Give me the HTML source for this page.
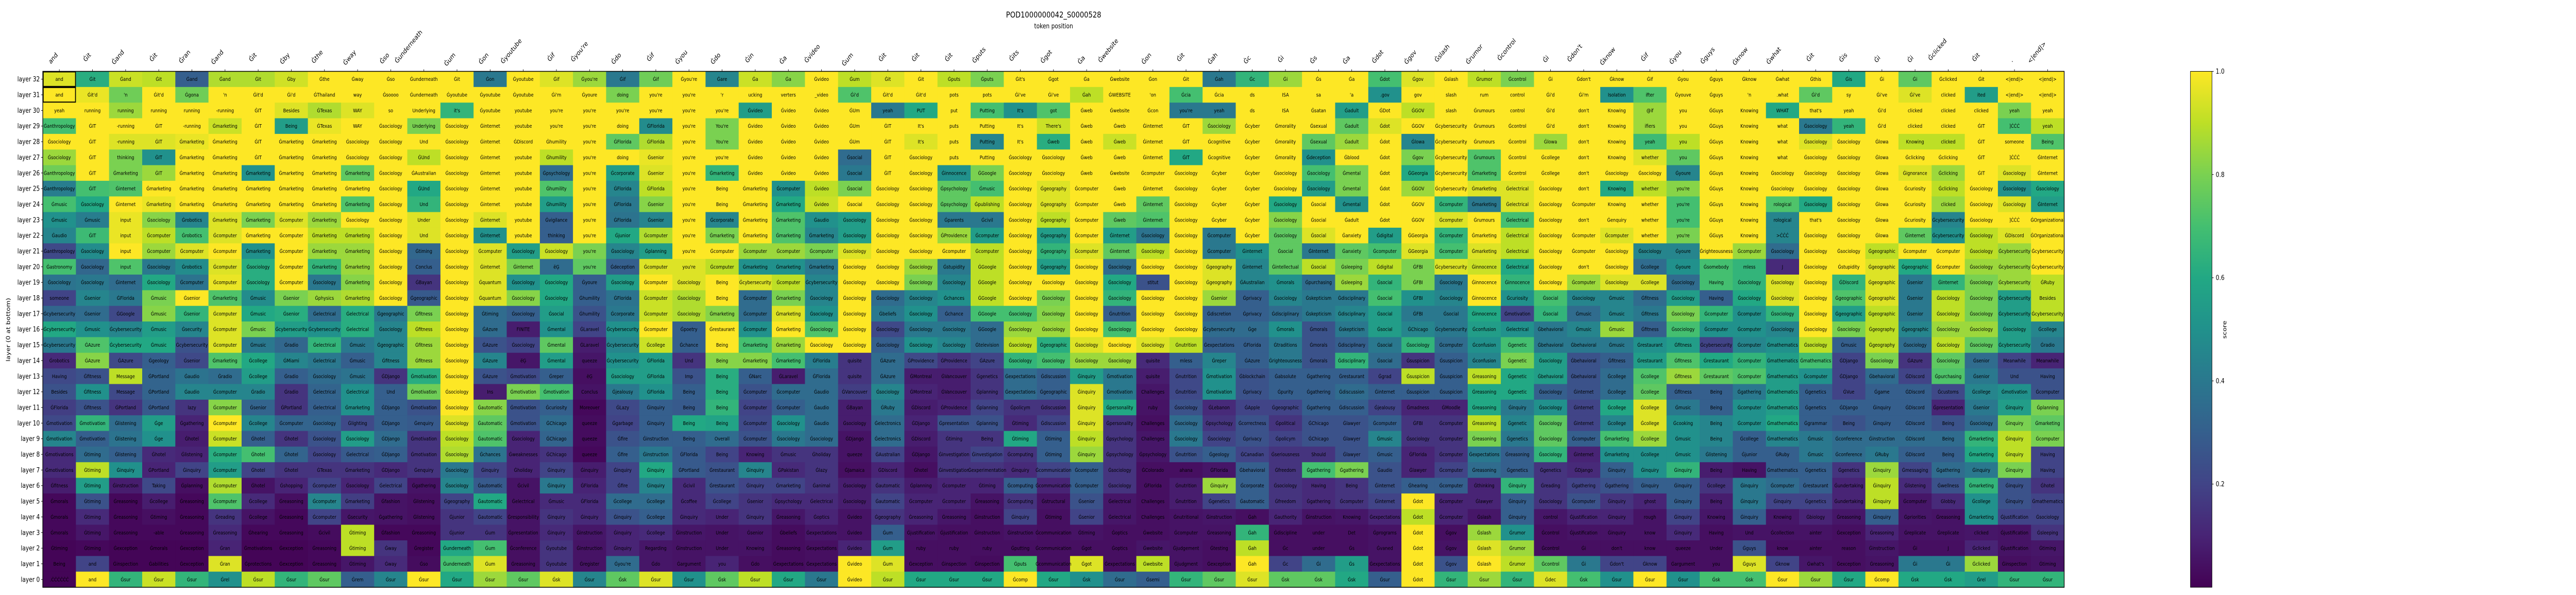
<!DOCTYPE html>
<html><head><meta charset="utf-8"><title>POD1000000042_S0000528</title>
<style>html,body{margin:0;padding:0;background:#fff;width:100%;height:100%;overflow:hidden}svg{display:block;width:100vw;height:100vh}text{font-family:"DejaVu Sans","Liberation Sans",sans-serif}</style>
</head><body>
<svg id="chart" xmlns="http://www.w3.org/2000/svg" viewBox="0 0 6100 1155" preserveAspectRatio="none">
<defs><linearGradient id="vir" x1="0" y1="1" x2="0" y2="0">
<stop offset="0" stop-color="#440154"/><stop offset="0.1" stop-color="#482475"/><stop offset="0.2" stop-color="#414487"/><stop offset="0.3" stop-color="#355f8d"/><stop offset="0.4" stop-color="#2a788e"/><stop offset="0.5" stop-color="#21918c"/><stop offset="0.6" stop-color="#22a884"/><stop offset="0.7" stop-color="#44bf70"/><stop offset="0.8" stop-color="#7ad151"/><stop offset="0.9" stop-color="#bddf26"/><stop offset="1" stop-color="#fde725"/></linearGradient></defs>
<text x="2495" y="34" font-size="16" text-anchor="middle">POD1000000042_S0000528</text>
<text x="2495" y="55" font-size="13" text-anchor="middle">token position</text>
<text transform="translate(24,640) rotate(-90)" font-size="13" text-anchor="middle">layer (0 at bottom)</text>
<g id="cells"></g>
<g id="xt"></g>
<g id="yt"></g>
<rect x="101.3" y="138.5" width="4786.7" height="1001.5" fill="none" stroke="#000" stroke-width="1.5"/>
<g id="cb">
<rect x="5187" y="138.5" width="51" height="1001.5" fill="url(#vir)" stroke="#000" stroke-width="1"/>
</g>
<text transform="translate(5272,640) rotate(-90)" font-size="13" text-anchor="middle">score</text>
</svg>
<script>
const xLabels=["and","Ġit","Ġand","Ġit","Ġran","Ġand","Ġit","Ġby","Ġthe","Ġway","Ġso","Ġunderneath","Ġum","Ġon","Ġyoutube","Ġif","Ġyou're","Ġdo","Ġif","Ġyou","Ġdo","Ġin","Ġa","Ġvideo","Ġum","Ġit","Ġit","Ġit","Ġputs","Ġits","Ġgot","Ġa","Ġwebsite","Ġon","Ġit","Ġah","Ġc","Ġi","Ġs","Ġa","Ġdot","Ġgov","Ġslash","Ġrumor","Ġcontrol","Ġi","Ġdon't","Ġknow","Ġif","Ġyou","Ġguys","Ġknow","Ġwhat","Ġit","Ġis","Ġi","Ġi","Ġclicked","Ġit",".","<|end|>"];
const layers=[32,31,30,29,28,27,26,25,24,23,22,21,20,19,18,17,16,15,14,13,12,11,10,9,8,7,6,5,4,3,2,1,0];
const cbTicks=[0.2,0.4,0.6,0.8,1.0];
const tokenCols=[
["and","and","yeah","Ġanthropology","Ġsociology","Ġsociology","Ġanthropology","Ġanthropology","Ġmusic","Ġmusic","Ġaudio","Ġanthropology","Ġastronomy","Ġsociology","someone","Ġcybersecurity","Ġcybersecurity","Ġcybersecurity","Ġrobotics","Having","Besides","ĠFlorida","Ġmotivation","Ġmotivation","Ġmotivations","Ġmotivations","Ġfitness","Ġmorals","Ġmorals","Ġmorals","Ġtiming","Being",".ĊĊĊĊĊĊ"],
["Ġit","Ġit'd","running","ĠIT","ĠIT","ĠIT","ĠIT","ĠIT","Ġsociology","Ġmusic","ĠIT","Ġsociology","Ġsociology","Ġsociology","Ġsenior","Ġsenior","Ġmusic","ĠAzure","ĠAzure","Ġfitness","Ġfitness","Ġfitness","Ġmotivation","Ġmotivation","Ġtiming","Ġtiming","Ġtiming","Ġtiming","Ġtiming","Ġtiming","Ġtiming","and","and"],
["Ġand","'n","running","-running","-running","thinking","Ġmarketing","Ġinternet","Ġinternet","input","input","input","input","Ġinternet","ĠFlorida","ĠGoogle","Ġcybersecurity","Ġcybersecurity","ĠAzure","Message","Message","ĠPortland","Ġlistening","Ġlistening","Ġlistening","Ġinquiry","Ġinstruction","Ġreasoning","Ġreasoning","Ġreasoning","Ġexception","Ġinspection","Ġsur"],
["Ġit","Ġit'd","running","ĠIT","ĠIT","ĠIT","ĠIT","Ġmarketing","Ġmarketing","Ġsociology","Ġcomputer","Ġcomputer","Ġsociology","Ġsociology","Ġmusic","Ġmusic","Ġmusic","Ġmusic","Ġgeology","ĠPortland","ĠPortland","ĠPortland","Ġge","Ġge","Ġhotel","ĠPortland","Taking","Ġcollege","Ġtiming","-able","Ġmorals","Ġabilities","Ġsur"],
["Ġand","Ġgona","running","-running","Ġmarketing","Ġmarketing","Ġmarketing","Ġmarketing","Ġmarketing","Ġrobotics","Ġrobotics","Ġcomputer","Ġrobotics","Ġcomputer","Ġsenior","Ġsenior","Ġsecurity","Ġcybersecurity","Ġsenior","Ġaudio","Ġaudio","lazy","Ġgathering","Ġhotel","Ġlistening","Ġinquiry","Ġplanning","Ġreasoning","Ġreasoning","Ġreasoning","Ġexception","Ġexception","Ġsur"],
["Ġand","'n","-running","Ġmarketing","Ġmarketing","Ġmarketing","Ġmarketing","Ġmarketing","Ġmarketing","Ġmarketing","Ġcomputer","Ġcomputer","Ġcomputer","Ġcomputer","Ġmarketing","Ġcomputer","Ġcomputer","Ġcomputer","Ġmarketing","Ġradio","Ġcomputer","Ġcomputer","Ġcomputer","Ġcomputer","Ġcomputer","Ġcomputer","Ġcomputer","Ġcomputer","Ġreading","Ġreasoning","Ġran","Ġran","Ġrel"],
["Ġit","Ġit'd","ĠIT","ĠIT","ĠIT","ĠIT","Ġmarketing","Ġmarketing","Ġmarketing","Ġmarketing","Ġmarketing","Ġmarketing","Ġsociology","Ġsociology","Ġmusic","Ġmusic","Ġmusic","Ġmusic","Ġcollege","Ġcollege","Ġradio","Ġsenior","Ġcollege","Ġhotel","Ġhotel","Ġhotel","Ġhotel","Ġcollege","Ġcollege","Ġhearing","Ġmotivations","Ġprotections","Ġsur"],
["Ġby","Ġi'd","Besides","Being","Ġmarketing","Ġmarketing","Ġmarketing","Ġmarketing","Ġmarketing","Ġcomputer","Ġcomputer","Ġcomputer","Ġcomputer","Ġcomputer","Ġsenior","Ġsenior","Ġcybersecurity","Ġradio","ĠMiami","Ġradio","Ġradio","ĠPortland","Ġcomputer","Ġhotel","Ġhotel","Ġhotel","Ġshopping","Ġreasoning","Ġreasoning","Ġreasoning","Ġexception","Ġexception","Ġsur"],
["Ġthe","ĠThailand","ĠTexas","ĠTexas","Ġmarketing","Ġmarketing","Ġmarketing","Ġmarketing","Ġmarketing","Ġmarketing","Ġmarketing","Ġmarketing","Ġmarketing","Ġsociology","Ġphysics","Ġelectrical","Ġcybersecurity","Ġelectrical","Ġelectrical","Ġsociology","Ġelectrical","Ġelectrical","Ġsociology","Ġsociology","Ġsociology","ĠTexas","Ġcomputer","Ġcomputer","Ġcomputer","Ġcivil","Ġreasoning","Ġreasoning","Ġsur"],
["Ġway","way","WAY","WAY","Ġsociology","Ġsociology","Ġmarketing","Ġmarketing","Ġmarketing","Ġsociology","Ġmarketing","Ġmarketing","Ġmarketing","Ġmarketing","Ġmarketing","Ġelectrical","Ġelectrical","Ġmusic","Ġmusic","Ġmusic","Ġelectrical","Ġmarketing","Ġlighting","Ġsociology","Ġelectrical","Ġmarketing","Ġsociology","Ġmarketing","Ġsecurity","Ġtiming","Ġtiming","Ġtiming","Ġrem"],
["Ġso","Ġsoooo","so","Ġsociology","Ġsociology","Ġsociology","Ġsociology","Ġsociology","Ġsociology","Ġsociology","Ġsociology","Ġsociology","Ġsociology","Ġsociology","Ġsociology","Ġgeographic","Ġsociology","Ġgeographic","Ġfitness","ĠDjango","Und","ĠDjango","ĠDjango","ĠDjango","ĠDjango","ĠDjango","Ġelectrical","Ġfashion","Ġgathering","Ġfashion","Ġway","Ġway","Ġsur"],
["Ġunderneath","Ġunderneath","Underlying","Underlying","Und","ĠUnd","ĠAustralian","ĠUnd","Und","Under","Und","Ġtiming","Conclus","ĠBayan","Ġgeographic","Ġfitness","Ġfitness","Ġfitness","Ġfitness","Ġmotivation","Ġmotivation","Ġmotivation","Ġenquiry","Ġmotivation","Ġmotivation","Ġenquiry","Ġgathering","Ġlistening","Ġlistening","Ġreasoning","Ġregister","Ġso","Ġsur"],
["Ġit","Ġyoutube","it's","Ġsociology","Ġsociology","Ġsociology","Ġsociology","Ġsociology","Ġsociology","Ġsociology","Ġsociology","Ġsociology","Ġsociology","Ġsociology","Ġsociology","Ġsociology","Ġsociology","Ġsociology","Ġsociology","Ġsociology","Ġsociology","Ġsociology","Ġsociology","Ġsociology","Ġsociology","Ġsociology","Ġsociology","Ġgeography","Ġjunior","Ġjunior","Ġunderneath","Ġunderneath","Ġsur"],
["Ġon","Ġyoutube","Ġyoutube","Ġinternet","Ġinternet","Ġinternet","Ġinternet","Ġinternet","Ġinternet","Ġinternet","Ġinternet","Ġcomputer","Ġinternet","Ġquantum","Ġquantum","Ġtiming","ĠAzure","ĠAzure","ĠAzure","ĠAzure","Ins","Ġautomatic","Ġautomatic","Ġautomatic","Ġchances","Ġinquiry","Ġautomatic","Ġautomatic","Ġautomatic","Ġum","Ġum","Ġum","Ġsur"],
["Ġyoutube","Ġyoutube","youtube","youtube","ĠDiscord","youtube","youtube","youtube","youtube","youtube","youtube","Ġsociology","Ġinternet","Ġsociology","Ġsociology","Ġsociology","FINITE","Ġsociology","ëĢ","Ġmotivation","Ġmotivation","Ġmotivation","Ġmotivation","Ġsociology","Ġweaknesses","Ġholiday","Ġcivil","Ġelectrical","Ġresponsibility","Ġpresentation","Ġconference","Ġreasoning","Ġsur"],
["Ġif","Ġi'm","you're","you're","Ġhumility","Ġhumility","Ġpsychology","Ġhumility","Ġhumility","Ġvigilance","thinking","Ġsociology","ëĢ","Ġsociology","Ġsociology","Ġsocial","Ġmental","Ġmental","Ġmental","Ġreper","Ġmotivation","Ġcuriosity","ĠChicago","ĠChicago","ĠChicago","Ġinquiry","Ġinquiry","Ġmusic","Ġinquiry","Ġinquiry","Ġyoutube","Ġyoutube","Ġsk"],
["Ġyou're","Ġyoure","you're","you're","you're","you're","you're","you're","you're","you're","you're","you're","you're","Ġyoure","Ġhumility","Ġhumility","ĠLaravel","ĠLaravel","queeze","ëĢ","Conclus","Moreover","queeze","queeze","queeze","Ġinquiry","ĠFlorida","ĠFlorida","Ġinquiry","Ġinstruction","Ġinstruction","Ġregister","Ġsur"],
["Ġif","doing","you're","doing","ĠFlorida","doing","Ġcorporate","ĠFlorida","ĠFlorida","ĠFlorida","Ġjunior","Ġsociology","Ġdeception","Ġsociology","ĠFlorida","Ġcorporate","Ġcybersecurity","Ġcybersecurity","Ġcybersecurity","Ġsociology","Ġjealousy","ĠLazy","Ġgarbage","Ġfire","Ġfire","Ġinquiry","Ġfire","Ġcollege","Ġinquiry","Ġinquiry","Ġinquiry","Ġyou're","Ġsk"],
["Ġif","you're","you're","ĠFlorida","ĠFlorida","Ġsenior","Ġsenior","ĠFlorida","Ġsenior","Ġsenior","Ġcomputer","Ġplanning","Ġcomputer","Ġcomputer","Ġcomputer","Ġcomputer","Ġcomputer","Ġcollege","ĠFlorida","ĠFlorida","ĠFlorida","Ġinquiry","Ġinquiry","Ġinstruction","Ġinstruction","Ġinquiry","Ġinquiry","Ġcollege","Ġcollege","Ġcollege","Regarding","Ġdo","Ġsur"],
["Ġyou're","you're","you're","you're","you're","you're","you're","you're","you're","you're","you're","you're","you're","Ġsociology","Ġsociology","Ġsociology","Ġpoetry","Ġchance","Und","Imp","Being","Being","Being","Being","ĠFlorida","ĠPortland","Ġcivil","Ġcoffee","Ġinquiry","Ġinstruction","Ġinstruction","Ġargument","Ġsur"],
["Ġare","'r","you're","You're","You're","you're","Ġmarketing","Being","Being","Ġcorporate","Ġmarketing","Ġcomputer","Ġcomputer","Being","Being","Ġmarketing","Ġrestaurant","Being","Being","Being","Being","Being","Being","Overall","Being","Ġrestaurant","Ġrestaurant","Ġcollege","Under","Under","Under","you","Ġsk"],
["Ġa","ucking","Ġvideo","Ġvideo","Ġvideo","Ġvideo","Ġvideo","Ġmarketing","Ġmarketing","Ġmarketing","Ġmarketing","Ġcomputer","Ġmarketing","Ġcybersecurity","Ġcomputer","Ġcomputer","Ġcomputer","Ġmarketing","Ġmarketing","ĠNarc","Ġcomputer","Ġcomputer","Ġcomputer","Ġcomputer","Knowing","Ġinquiry","Ġinquiry","Ġsenior","Ġinquiry","Ġsenior","Knowing","Ġdo","Ġsur"],
["Ġa","verters","Ġvideo","Ġvideo","Ġvideo","Ġvideo","Ġvideo","Ġcomputer","Ġmarketing","Ġmarketing","Ġmarketing","Ġcomputer","Ġmarketing","Ġcomputer","Ġmarketing","Ġmarketing","Ġmarketing","Ġmarketing","Ġmarketing","ĠLaravel","Ġcomputer","Ġcomputer","Ġsociology","Ġsociology","Ġmusic","ĠPakistan","Ġmarketing","Ġpsychology","Ġreasoning","Ġbeliefs","Ġreasoning","Ġexpectations","Ġsur"],
["Ġvideo","_video","Ġvideo","Ġvideo","Ġvideo","Ġvideo","Ġvideo","Ġvideo","Ġvideo","Ġaudio","Ġmarketing","Ġcomputer","Ġmarketing","Ġcybersecurity","Ġsociology","Ġsociology","Ġsociology","Ġsociology","ĠFlorida","ĠFlorida","Ġaudio","Ġaudio","Ġaudio","Ġsociology","Ġholiday","Ġlazy","Ġanimal","Ġelectrical","Ġoptics","Ġexpectations","Ġexpectations","Ġexpectations","Ġsur"],
["Ġum","Ġi'd","ĠUm","ĠUm","ĠUm","Ġsocial","Ġsocial","Ġsocial","Ġsocial","Ġsociology","Ġsociology","Ġsociology","Ġsociology","Ġsociology","Ġsociology","Ġsociology","Ġsociology","Ġsociology","quisite","quisite","ĠVancouver","ĠBayan","Ġsociology","ĠDjango","queeze","ĠJamaica","Ġsociology","Ġsociology","Ġvideo","Ġvideo","Ġvideo","Ġvideo","Ġvideo"],
["Ġit","Ġit'd","yeah","ĠIT","ĠIT","ĠIT","ĠIT","Ġsociology","Ġsociology","Ġsociology","Ġsociology","Ġsociology","Ġsociology","Ġsociology","Ġsociology","Ġbeliefs","Ġsociology","Ġsociology","ĠAzure","ĠAzure","Ġsociology","ĠRuby","Ġelectronics","Ġelectronics","ĠAustralian","ĠDiscord","Ġautomatic","Ġautomatic","Ġgeography","Ġum","Ġum","Ġum","Ġsur"],
["Ġit","Ġit'd","PUT","It's","It's","Ġsociology","Ġsociology","Ġsociology","Ġsociology","Ġsociology","Ġsociology","Ġsociology","Ġsociology","Ġsociology","Ġsociology","Ġsociology","Ġsociology","Ġsociology","ĠProvidence","ĠMontreal","ĠMontreal","ĠDiscord","ĠDjango","ĠDiscord","ĠDjango","Ġhotel","Ġplanning","Ġcomputer","Ġreasoning","Ġjustification","ruby","Ġexception","Ġsur"],
["Ġputs","pots","put","puts","puts","puts","Ġinnocence","Ġpsychology","Ġpsychology","Ġparents","ĠProvidence","Ġcomputer","Ġstupidity","Ġsociology","Ġchances","Ġchance","Ġsociology","Ġsociology","ĠProvidence","ĠVancouver","ĠVancouver","ĠProvidence","Ġpresentation","Ġtiming","Ġinvestigation","Ġinvestigation","Ġcomputer","Ġcomputer","Ġreasoning","Ġjustification","ruby","Ġinspection","Ġsur"],
["Ġputs","pots","Putting","Putting","Putting","Putting","ĠGoogle","Ġmusic","Ġpublishing","Ġcivil","Ġcomputer","Ġcomputer","ĠGoogle","ĠGoogle","ĠGoogle","ĠGoogle","ĠGoogle","Ġtelevision","ĠAzure","Ġgenetics","Ġplanning","Ġplanning","Ġplanning","Being","Ġinvestigation","Ġexperimentation","Ġtiming","Ġreasoning","Ġinstruction","Ġinstruction","ruby","Ġinspection","Ġsur"],
["Ġit's","Ġi've","It's","It's","It's","Ġsociology","Ġsociology","Ġsociology","Ġsociology","Ġsociology","Ġsociology","Ġsociology","Ġsociology","Ġsociology","Ġsociology","Ġsociology","Ġsociology","Ġsociology","Ġsociology","Ġexpectations","Ġexpectations","Ġpolicym","Ġtiming","Ġtiming","Ġcomputing","Ġinquiry","Ġcomputing","Ġcomputing","Ġinquiry","Ġinstruction","Ġputting","Ġputs","Ġcomp"],
["Ġgot","Ġi've","got","There's","Ġweb","Ġsociology","Ġsociology","Ġgeography","Ġgeography","Ġgeography","Ġgeography","Ġgeography","Ġgeography","Ġsociology","Ġsociology","Ġsociology","Ġsociology","Ġgeographic","Ġsociology","Ġdiscussion","Ġgeographic","Ġdiscussion","Ġdiscussion","Ġtiming","Ġtiming","Ġcommunication","Ġcommunication","Ġstructural","Ġtiming","Ġcommunication","Ġcommunication","Ġcommunication","Ġsur"],
["Ġa","Ġah","Ġweb","Ġweb","Ġweb","Ġweb","Ġweb","Ġcomputer","Ġcomputer","Ġcomputer","Ġcomputer","Ġcomputer","Ġsociology","Ġsociology","Ġsociology","Ġsociology","Ġsociology","Ġsociology","Ġsociology","Ġinquiry","Ġinquiry","Ġinquiry","Ġinquiry","Ġinquiry","Ġinquiry","Ġcomputer","Ġcomputer","Ġsenior","Ġsenior","Ġtiming","Ġgot","Ġgot","Ġsk"],
["Ġwebsite","ĠWEBSITE","Ġwebsite","Ġweb","Ġweb","Ġweb","Ġwebsite","Ġweb","Ġweb","Ġweb","Ġinternet","Ġinternet","Ġsociology","Ġsociology","Ġsociology","Ġnutrition","Ġsociology","Ġsociology","Ġsociology","Ġmotivation","Ġmotivation","Ġpersonality","Ġpersonality","Ġpsychology","Ġpsychology","Ġsociology","Ġsociology","Ġelectrical","Ġelectrical","Ġoptics","Ġoptics","Ġexpectations","Ġsur"],
["Ġon","'on","Ġcon","Ġinternet","Ġinternet","Ġinternet","Ġcomputer","Ġinternet","Ġinternet","Ġinternet","Ġsociology","Ġsociology","Ġsociology","stitut","Ġsociology","Ġsociology","Ġsociology","Ġsociology","quisite","quisite","Challenges","ruby","Challenges","Challenges","Ġpsychology","ĠColorado","ĠFlorida","Challenges","Challenges","Ġwebsite","Ġwebsite","Ġwebsite","Ġsemi"],
["Ġit","Ġcia","you're","ĠIT","ĠIT","ĠIT","Ġsociology","Ġsociology","Ġsociology","Ġsociology","Ġsociology","Ġsociology","Ġsociology","Ġsociology","Ġsociology","Ġsociology","Ġsociology","Ġnutrition","mless","Ġnutrition","Ġnutrition","Ġsociology","Ġsociology","Ġsociology","Ġnutrition","ahana","Ġnutrition","Ġnutrition","Ġnutritional","Ġcomputer","Ġjudgement","Ġjudgment","Ġsur"],
["Ġah","Ġcia","yeah","Ġsociology","Ġcognitive","Ġcognitive","Ġcyber","Ġcyber","Ġcyber","Ġcyber","Ġcomputer","Ġcomputer","Ġgeography","Ġgeography","Ġsenior","Ġdiscretion","Ġcybersecurity","Ġexpectations","Ġreper","Ġmotivation","Ġmotivation","ĠLebanon","Ġpsychology","Ġsociology","Ġgeology","ĠFlorida","Ġinquiry","Ġgenetics","Ġinstruction","Ġreasoning","Ġtesting","Ġexception","Ġsur"],
["Ġc","ds","ds","Ġcyber","Ġcyber","Ġcyber","Ġcyber","Ġcyber","Ġcyber","Ġcyber","Ġcyber","Ġinternet","Ġinternet","ĠAustralian","Ġprivacy","Ġprivacy","Ġge","ĠFlorida","ĠAzure","Ġblockchain","Ġprivacy","ĠApple","Ġcorrectness","Ġprivacy","ĠCanadian","Ġbehavioral","Ġcorporate","Ġautomatic","Ġah","Ġah","Ġah","Ġah","Ġsur"],
["Ġi","ISA","ISA","Ġmorality","Ġmorality","Ġmorality","Ġsociology","Ġsociology","Ġsociology","Ġsociology","Ġsociology","Ġsocial","Ġintellectual","Ġmorals","Ġsociology","Ġdisciplinary","Ġmorals","Ġtraditions","Ġrighteousness","Ġabsolute","Ġpurity","Ġgeographic","Ġpolitical","Ġpolicym","Ġseriousness","Ġfreedom","Ġsociology","Ġfreedom","Ġauthority","Ġdiscipline","Ġc","Ġc","Ġsk"],
["Ġs","sa","Ġsatan","Ġsexual","Ġsexual","Ġdeception","Ġsociology","Ġsociology","Ġsocial","Ġsocial","Ġsocial","ĠInternet","Ġsocial","Ġpurchasing","Ġskepticism","Ġskepticism","Ġmorals","Ġmorals","Ġmorals","Ġgathering","Ġgathering","Ġgathering","ĠChicago","ĠChicago","Should","Ġgathering","Having","Ġgathering","Ġinstruction","under","under","Ġi","Ġsk"],
["Ġa","'a","Ġadult","Ġadult","Ġadult","Ġblood","Ġmental","Ġmental","Ġmental","Ġadult","Ġanxiety","Ġanxiety","Ġsleeping","Ġsleeping","Ġdisciplinary","Ġdisciplinary","Ġskepticism","Ġdisciplinary","Ġdisciplinary","Ġrestaurant","Ġdiscussion","Ġdiscussion","Ġlawyer","Ġlawyer","Ġlawyer","Ġgathering","Being","Ġcomputer","Knowing","Det","Ġs","Ġs","Ġsk"],
["Ġdot",".gov","ĠDot","Ġdot","Ġdot","Ġdot","Ġdot","Ġdot","Ġdot","Ġdot","Ġdigital","Ġcomputer","Ġdigital","Ġsocial","Ġsocial","Ġsocial","Ġsocial","Ġsocial","Ġsocial","Ġgrad","Ġinternet","Ġjealousy","Ġcomputer","Ġmusic","Ġmusic","Ġaudio","Ġinternet","Ġinternet","Ġexpectations","Ġprograms","Ġvaned","Ġexpectations","Ġsur"],
["Ġgov","gov","ĠGOV","ĠGOV","Ġlowa","Ġgov","ĠGeorgia","ĠGOV","ĠGOV","ĠGOV","ĠGeorgia","ĠGeorgia","ĠFBI","ĠFBI","ĠFBI","ĠFBI","ĠChicago","Ġsociology","Ġsuspicion","Ġsuspicion","Ġsuspicion","Ġmadness","ĠFBI","Ġsociology","ĠFlorida","Ġlawyer","Ġhearing","Ġdot","Ġdot","Ġdot","Ġdot","Ġdot","Ġdot"],
["Ġslash","slash","slash","Ġcybersecurity","Ġcybersecurity","Ġcybersecurity","Ġcybersecurity","Ġcybersecurity","Ġcomputer","Ġcomputer","Ġcomputer","Ġcomputer","Ġcybersecurity","Ġsociology","Ġsociology","Ġsocial","Ġcybersecurity","Ġcomputer","Ġsuspicion","Ġsuspicion","Ġsuspicion","ĠMoodle","Ġcomputer","Ġcomputer","Ġcomputer","Ġcomputer","Ġcomputer","Ġcomputer","Ġcomputer","Ġgov","Ġgov","Ġgov","Ġsur"],
["Ġrumor","rum","Ġrumours","Ġrumours","Ġrumours","Ġrumours","Ġmarketing","Ġmarketing","Ġmarketing","Ġrumours","Ġmarketing","Ġmarketing","Ġinnocence","Ġinnocence","Ġinnocence","Ġinnocence","Ġconfusion","Ġconfusion","Ġconfusion","Ġreasoning","Ġreasoning","Ġreasoning","Ġreasoning","Ġreasoning","Ġexpectations","Ġreasoning","Ġthinking","Ġlawyer","Ġslash","Ġslash","Ġslash","Ġslash","Ġsur"],
["Ġcontrol","control","control","Ġcontrol","Ġcontrol","Ġcontrol","Ġcontrol","Ġelectrical","Ġelectrical","Ġelectrical","Ġelectrical","Ġelectrical","Ġelectrical","Ġinnocence","Ġcuriosity","Ġmotivation","Ġelectrical","Ġgenetic","Ġgenetic","Ġgenetic","Ġgenetic","Ġinquiry","Ġgenetic","Ġgenetics","Ġreasoning","Ġgenetics","Ġinquiry","Ġinquiry","Ġinquiry","Ġrumor","Ġrumor","Ġrumor","Ġsur"],
["Ġi","Ġi'd","Ġi'd","Ġi'd","Ġlowa","Ġcollege","Ġcollege","Ġsociology","Ġsociology","Ġsociology","Ġsociology","Ġsociology","Ġsociology","Ġsociology","Ġsocial","Ġsocial","Ġbehavioral","Ġbehavioral","Ġsociology","Ġbehavioral","Ġsociology","Ġsociology","Ġsociology","Ġsociology","Ġsociology","Ġgenetics","Ġreading","Ġsociology","control","Ġcontrol","Ġcontrol","Ġcontrol","Ġdec"],
["Ġdon't","Ġi'm","don't","don't","don't","don't","don't","don't","Ġcomputer","don't","Ġcomputer","Ġcomputer","don't","Ġcomputer","Ġsociology","Ġmusic","Ġmusic","Ġbehavioral","Ġbehavioral","Ġbehavioral","Ġinternet","Ġinternet","Ġinternet","Ġcomputer","Ġinternet","ĠDjango","Ġgathering","Ġcomputer","Ġjustification","Ġjustification","Ġi","Ġi","Ġsk"],
["Ġknow","Isolation","Knowing","Knowing","Knowing","Knowing","Ġsociology","Knowing","Knowing","Ġenquiry","Ġcomputer","Ġsociology","Ġsociology","Ġsociology","Ġmusic","Ġmusic","Ġmusic","Ġmusic","Ġfitness","Ġcollege","Ġcollege","Ġcollege","Ġcollege","Ġmarketing","Ġmarketing","Ġinquiry","Ġgathering","Ġinquiry","Ġinquiry","Ġinquiry","don't","Ġdon't","Ġsur"],
["Ġif","ifter","@if","ifiers","yeah","whether","Ġsociology","whether","whether","whether","whether","Ġsociology","Ġcollege","Ġcollege","Ġfitness","Ġfitness","Ġfitness","Ġrestaurant","Ġrestaurant","Ġcollege","Ġcollege","Ġcollege","Ġcollege","Ġcollege","Ġcollege","Ġinquiry","Ġinquiry","ghost","rough","know","know","Ġknow","Ġsur"],
["Ġyou","Ġyouve","you","you","you","you","Ġyoure","you're","you're","you're","you're","Ġyoure","Ġyoure","Ġsociology","Ġsociology","Ġsociology","Ġsociology","Ġfitness","Ġfitness","Ġfitness","Ġfitness","Ġmusic","Ġcooking","Ġmusic","Ġmusic","Ġinquiry","Ġinquiry","Ġinquiry","Ġinquiry","Ġinquiry","queeze","Ġargument","Ġsur"],
["Ġguys","Ġguys","ĠGuys","ĠGuys","ĠGuys","ĠGuys","ĠGuys","ĠGuys","ĠGuys","ĠGuys","ĠGuys","Ġrighteousness","Ġsomebody","Having","Having","Ġcomputer","Ġcomputer","Ġcybersecurity","Ġrestaurant","Ġrestaurant","Being","Being","Being","Being","Ġlistening","Being","Ġcollege","Being","Knowing","Having","Under","you","Ġsk"],
["Ġknow","'n","Knowing","Knowing","Knowing","Knowing","Knowing","Knowing","Knowing","Knowing","Knowing","Ġcomputer","mless","Ġsociology","Ġsociology","Ġcomputer","Ġcomputer","Ġcomputer","Ġcomputer","Ġcomputer","Ġgathering","Ġcomputer","Ġcomputer","Ġcollege","Ġjunior","Having","Ġinquiry","Ġinquiry","Ġinquiry","Und","Ġguys","Ġguys","Ġsk"],
["Ġwhat",".what","WHAT","what","what","what","Ġsociology","Ġsociology","rological","rological",">ĊĊĊ","Ġsociology","J","Ġsociology","Ġsociology","Ġsociology","Ġsociology","Ġmathematics","Ġmathematics","Ġmathematics","Ġmathematics","Ġmathematics","Ġmathematics","Ġmathematics","ĠRuby","Ġmathematics","Ġcomputer","Ġinquiry","Knowing","Ġcollection","know","Ġknow","Ġsur"],
["Ġthis","Ġi'd","that's","Ġsociology","Ġsociology","Ġsociology","Ġsociology","Ġsociology","Ġsociology","that's","Ġsociology","Ġsociology","Ġsociology","Ġsociology","Ġsociology","Ġsociology","Ġsociology","Ġsociology","Ġmathematics","Ġcomputer","Ġgenetics","Ġgenetics","Ġgrammar","Ġmusic","Ġmusic","Ġgenetics","Ġrestaurant","Ġgenetics","Ġbiology","ainter","ainter","Ġwhat's","Ġsur"],
["Ġis","sy","yeah","yeah","Ġsociology","Ġsociology","Ġsociology","Ġsociology","Ġsociology","Ġsociology","Ġsociology","Ġsociology","Ġstupidity","ĠDiscord","Ġgeographic","Ġgeographic","Ġsociology","Ġmusic","ĠDjango","ĠDjango","ĠVue","ĠDjango","Being","Ġconference","Ġconference","Ġgenetics","Ġundertaking","Ġundertaking","Ġreasoning","Ġexception","reason","Ġexception","Ġsur"],
["Ġi","Ġi've","Ġi'd","Ġi'd","Ġlowa","Ġlowa","Ġlowa","Ġlowa","Ġlowa","Ġlowa","Ġlowa","Ġgeographic","Ġgeographic","Ġgeographic","Ġgeographic","Ġgeographic","Ġgeography","Ġgeography","Ġsociology","Ġbehavioral","Ġgame","Ġinquiry","Ġinquiry","Ġinstruction","ĠRuby","Ġinquiry","Ġinquiry","Ġinquiry","Ġinquiry","Ġreasoning","Ġinstruction","Ġreasoning","Ġcomp"],
["Ġi","Ġi've","clicked","clicked","Knowing","Ġclicking","Ġignorance","Ġcuriosity","Ġcuriosity","Ġcuriosity","Ġinternet","Ġcomputer","Ġgeographic","Ġsenior","Ġsenior","Ġsenior","Ġgeographic","Ġsociology","ĠAzure","ĠDiscord","ĠDiscord","ĠDiscord","ĠDiscord","ĠDiscord","ĠDiscord","Ġmessaging","Ġlistening","Ġcomputer","Ġpriorities","Ġreplicate","Ġi","Ġi","Ġsk"],
["Ġclicked","clicked","clicked","clicked","clicked","Ġclicking","Ġclicking","Ġclicking","clicked","Ġcybersecurity","Ġcybersecurity","Ġcomputer","Ġcomputer","Ġinternet","Ġsociology","Ġsociology","Ġsociology","Ġsociology","Ġsociology","Ġpurchasing","Ġcustoms","Ġpresentation","Being","Being","Being","Ġgathering","Ġwellness","Globby","Ġreasoning","Ġreplicate","J","Ġi","Ġsk"],
["Ġit","ited","clicked","ĠIT","ĠIT","ĠIT","ĠIT","Ġsociology","Ġsociology","Ġsociology","Ġsociology","Ġsociology","Ġsociology","Ġsociology","Ġsociology","Ġsociology","Ġsociology","Ġsociology","Ġsenior","Ġsenior","Ġcollege","Ġsenior","Ġsociology","Ġmarketing","Ġmarketing","Ġinquiry","Ġmarketing","Ġcollege","Ġmarketing","clicked","Ġclicked","Ġclicked","Ġrel"],
["<|end|>","<|end|>","yeah","]ĊĊĊ","someone","]ĊĊĊ","Ġsociology","Ġsociology","Ġsociology","]ĊĊĊ","ĠDiscord","Ġcybersecurity","Ġcybersecurity","Ġcybersecurity","Ġcybersecurity","Ġcybersecurity","Ġsociology","Ġcybersecurity","Meanwhile","Und","Ġmotivation","Ġinquiry","Ġinquiry","Ġinquiry","Ġinquiry","Ġinquiry","Ġinquiry","Ġinquiry","Ġjustification","Ġjustification","Ġjustification","Ġinspection","Ġsur"],
["<|end|>","<|end|>","yeah","yeah","Being","ĠInternet","ĠInternet","Ġsociology","ĠInternet","ĠOrganizational","ĠOrganizational","Ġcybersecurity","Ġcybersecurity","ĠRuby","Besides","Ġcybersecurity","Ġcollege","Ġradio","Meanwhile","Having","Ġcomputer","Ġplanning","Ġmarketing","Ġcomputer","Having","Having","Ġhotel","Ġmathematics","Ġsociology","Ġsleeping","Ġtiming","Ġtiming","Ġsur"]
];
const scoreCols=[
[0.95,1,1,0.7,1,0.85,0.78,0.42,0.7,0.5,0.45,0.22,0.7,0.38,0.2,0.33,0.6,0.4,0.12,0.22,0.25,0.18,0.22,0.45,0.12,0.12,0.08,0.02,0.02,0.02,0.01,0.01,0.01],
[0.62,0.97,1,1,1,1,1,0.7,0.6,0.42,0.68,0.48,0.33,0.4,0.45,0.35,0.5,0.72,0.82,0.25,0.5,0.25,0.65,0.3,0.35,0.9,0.55,0.25,0.12,0.06,0.02,0.2,1],
[0.92,0.78,0.85,1,0.95,0.8,0.8,0.72,1,0.97,0.97,1,0.72,0.35,0.4,0.22,0.45,0.6,0.22,0.9,0.22,0.15,0.35,0.38,0.3,0.5,0.08,0.02,0.02,0.02,0.01,0.01,0.65],
[0.9,1,1,1,0.95,0.5,0.85,1,0.97,0.82,0.9,0.85,0.4,0.6,0.8,0.82,0.55,0.6,0.3,0.32,0.32,0.28,0.55,0.5,0.12,0.1,0.22,0.08,0.04,0.02,0.01,0.01,0.92],
[0.3,0.78,1,1,0.97,1,1,1,1,0.45,0.7,0.95,0.48,0.38,1,0.65,0.45,0.25,0.22,0.38,0.45,0.15,0.1,0.08,0.1,0.2,0.04,0.02,0.02,0.02,0.01,0.01,0.65],
[0.88,1,1,0.92,1,1,1,1,1,0.95,0.95,1,0.95,0.97,0.72,0.95,0.95,0.95,0.72,0.35,0.45,0.82,1,0.92,0.62,0.55,0.88,0.72,0.15,0.12,0.1,0.95,0.5],
[0.88,1,1,1,1,1,0.5,1,1,0.8,1,0.5,0.62,0.62,0.48,0.6,0.8,0.4,0.6,0.55,0.45,0.32,0.45,0.3,0.7,0.2,0.05,0.12,0.05,0.02,0.01,0.01,0.9],
[0.93,1,0.95,0.55,1,1,1,1,1,0.95,1,1,1,1,0.8,0.62,0.55,0.33,0.45,0.3,0.15,0.15,0.32,0.15,0.32,0.15,0.1,0.04,0.02,0.02,0.01,0.01,0.65],
[1,1,0.88,0.97,1,1,1,1,1,0.85,0.9,0.85,0.65,0.4,0.85,0.35,0.5,0.65,0.4,0.35,0.32,0.3,0.32,0.25,0.2,0.15,0.2,0.45,0.2,0.03,0.02,0.02,0.75],
[1,1,0.95,1,1,1,0.75,1,0.72,1,0.9,0.85,0.85,0.82,0.88,0.62,0.62,0.4,0.3,0.38,0.5,0.5,0.22,0.55,0.28,0.15,0.1,0.18,0.06,0.9,0.9,0.06,0.3],
[1,1,1,1,1,1,1,1,1,1,1,1,1,1,1,0.4,0.45,0.45,0.45,0.15,0.3,0.3,0.3,0.35,0.3,0.12,0.2,0.05,0.05,0.02,0.15,0.12,0.45],
[1,1,1,0.8,1,0.9,1,0.6,0.65,0.95,0.95,0.33,0.3,0.15,0.28,0.8,0.9,0.85,0.85,0.62,0.78,0.25,0.28,0.15,0.15,0.15,0.05,0.04,0.04,0.02,0.02,0.03,1],
[1,1,0.65,1,1,1,1,1,1,1,1,1,1,1,1,1,1,1,1,1,1,1,0.95,0.9,0.88,0.4,0.45,0.2,0.15,0.15,0.6,0.7,0.6],
[0.4,1,1,1,1,1,1,1,1,0.95,0.5,0.95,0.95,0.95,0.95,0.35,0.35,0.25,0.45,0.25,0.08,0.82,0.75,0.72,0.38,0.2,0.28,0.6,0.2,0.15,0.7,0.95,0.85],
[1,1,1,1,1,1,1,1,1,1,1,0.55,0.8,0.5,0.82,0.3,0.08,0.2,0.06,0.22,0.8,0.25,0.25,0.1,0.1,0.1,0.05,0.05,0.05,0.05,0.04,0.04,0.75],
[0.95,1,1,1,1,0.9,0.35,0.72,0.55,0.3,0.3,0.92,0.35,0.6,0.6,0.55,0.5,0.75,0.55,0.3,0.7,0.3,0.35,0.32,0.15,0.2,0.4,0.12,0.15,0.12,0.15,0.15,0.95],
[0.85,1,1,1,1,1,1,1,1,1,1,0.8,0.75,0.3,0.3,0.25,0.2,0.08,0.06,0.04,0.05,0.02,0.03,0.03,0.02,0.08,0.1,0.12,0.12,0.06,0.05,0.05,0.45],
[0.4,0.8,1,1,0.75,1,0.55,0.45,0.4,0.38,0.6,0.45,0.3,0.55,0.38,0.4,0.5,0.45,0.5,0.55,0.4,0.22,0.2,0.25,0.3,0.2,0.2,0.35,0.25,0.1,0.1,0.35,0.75],
[0.78,1,1,0.48,0.88,0.97,0.95,0.9,0.82,0.45,0.88,0.55,0.95,1,0.92,0.92,1,0.92,0.55,0.55,0.5,0.3,0.3,0.3,0.4,0.6,0.45,0.35,0.3,0.12,0.06,0.06,0.95],
[1,1,1,1,1,1,1,1,1,1,1,1,0.95,0.95,0.88,0.88,0.3,0.3,0.15,0.25,0.3,0.28,0.6,0.3,0.28,0.28,0.12,0.12,0.12,0.06,0.05,0.05,0.5],
[0.45,1,1,0.8,0.8,1,0.65,1,1,0.45,0.8,1,0.9,1,1,0.82,1,1,0.82,0.62,0.62,0.65,0.58,0.35,0.2,0.25,0.25,0.2,0.1,0.05,0.05,0.1,0.75],
[0.92,1,0.55,1,1,1,1,1,1,1,1,0.85,0.5,0.95,0.35,0.35,0.5,0.7,0.82,0.3,0.25,0.2,0.22,0.25,0.1,0.45,0.2,0.15,0.15,0.06,0.05,0.04,0.9],
[0.82,1,1,1,1,1,1,0.5,0.6,0.72,0.72,0.85,0.5,0.9,0.8,0.95,1,0.85,0.7,0.08,0.35,0.3,0.5,0.4,0.15,0.12,0.2,0.12,0.06,0.03,0.03,0.03,0.6],
[1,1,1,1,1,1,1,0.9,0.92,0.5,0.45,0.8,0.4,0.45,0.45,0.5,0.72,1,0.42,0.35,0.35,0.35,0.35,0.35,0.15,0.15,0.15,0.12,0.1,0.06,0.04,0.04,0.4],
[0.9,0.72,1,1,1,0.35,0.4,0.8,1,0.55,0.55,0.95,1,1,1,1,1,1,0.15,0.15,0.18,0.08,0.08,0.05,0.05,0.04,0.08,0.08,0.05,0.05,0.1,1,1],
[0.95,1,0.4,1,1,1,1,1,1,1,1,1,1,1,0.35,0.4,0.22,0.3,0.35,0.35,0.45,0.4,0.35,0.35,0.2,0.1,0.15,0.2,0.15,0.3,0.55,0.95,0.9],
[1,1,0.6,1,0.95,1,1,1,1,1,1,1,0.85,0.8,0.45,0.5,0.4,0.5,0.22,0.08,0.1,0.08,0.1,0.08,0.06,0.04,0.08,0.1,0.1,0.05,0.04,0.04,0.6],
[0.9,1,1,1,1,1,0.5,0.75,0.75,0.4,0.85,1,0.4,0.45,0.5,0.3,0.4,0.45,0.15,0.08,0.08,0.1,0.25,0.15,0.15,0.15,0.1,0.1,0.06,0.04,0.04,0.04,0.6],
[0.8,1,0.7,1,0.45,1,0.8,0.7,0.9,0.4,0.55,0.9,0.9,0.9,0.9,0.7,0.35,0.35,0.2,0.15,0.15,0.2,0.25,0.15,0.2,0.15,0.1,0.05,0.04,0.04,0.04,0.03,0.6],
[1,1,0.5,1,1,1,1,1,1,1,1,1,1,1,1,0.7,0.85,0.9,0.65,0.35,0.35,0.15,0.12,0.6,0.15,0.12,0.3,0.15,0.2,0.05,0.04,0.7,1],
[1,1,0.72,0.92,0.62,1,1,0.95,0.95,0.9,0.55,0.65,0.55,1,0.8,0.82,0.85,0.62,0.7,0.3,0.3,0.15,0.2,0.3,0.3,0.2,0.1,0.05,0.04,0.04,0.04,0.04,0.6],
[1,0.9,1,1,1,1,1,1,1,1,1,0.95,1,1,1,1,1,0.95,0.85,0.55,0.95,0.95,0.95,0.9,0.85,0.3,0.3,0.25,0.2,0.05,0.04,0.95,0.5],
[1,1,1,1,0.92,1,1,1,1,0.75,0.55,0.75,0.35,0.6,0.65,0.3,0.7,1,0.85,0.4,0.4,0.6,0.15,0.15,0.15,0.15,0.15,0.06,0.06,0.04,0.04,0.04,0.35],
[1,1,1,1,1,1,1,1,0.75,0.72,0.38,0.9,1,0.25,1,1,1,0.95,0.12,0.08,0.06,0.05,0.04,0.06,0.06,0.04,0.04,0.04,0.04,0.04,0.06,0.9,0.3],
[1,0.7,0.4,1,1,0.6,1,1,1,1,1,1,1,1,1,1,1,0.9,0.3,0.22,0.22,0.25,0.35,0.4,0.25,0.04,0.08,0.08,0.05,0.05,0.05,0.05,0.65],
[0.4,1,0.4,0.85,1,1,1,1,1,1,0.4,0.4,0.95,0.95,0.85,0.3,0.35,0.3,0.45,0.5,0.5,0.12,0.15,0.2,0.3,0.06,0.85,0.2,0.06,0.05,0.04,0.04,0.75],
[0.65,1,1,1,1,1,1,1,1,1,1,0.5,0.45,0.45,0.3,0.3,0.35,0.3,0.3,0.25,0.25,0.2,0.25,0.25,0.2,0.3,0.3,0.3,0.04,0.65,0.9,1,0.95],
[0.85,1,1,1,1,1,1,1,0.6,0.82,0.75,0.75,0.75,0.5,0.45,0.35,0.5,0.4,0.4,0.3,0.3,0.2,0.15,0.2,0.15,0.15,0.15,0.15,0.1,0.04,0.04,0.2,0.75],
[1,1,1,1,0.75,0.5,0.7,0.55,1,1,0.95,0.4,0.9,0.35,0.4,0.4,0.25,0.25,0.25,0.3,0.3,0.3,0.25,0.25,0.15,0.7,0.12,0.12,0.05,0.04,0.04,0.35,0.75],
[1,1,0.55,0.75,0.85,1,0.8,0.8,0.5,1,1,0.75,0.8,0.85,0.4,0.45,0.4,0.3,0.65,0.3,0.35,0.3,0.25,0.25,0.25,0.8,0.15,0.15,0.06,0.04,0.04,0.55,0.6],
[0.7,0.5,1,0.95,1,1,1,1,1,1,0.55,0.7,0.9,0.65,0.7,0.55,0.55,0.4,0.35,0.2,0.3,0.2,0.3,0.45,0.3,0.25,0.25,0.2,0.1,0.05,0.05,0.05,0.3],
[0.95,1,0.9,1,0.45,0.8,0.6,0.85,1,1,1,0.95,0.8,0.8,0.5,0.4,0.45,0.65,0.15,0.9,0.3,0.1,0.15,0.15,0.1,0.1,0.3,1,0.9,1,1,1,1],
[1,1,1,1,1,1,1,1,0.65,0.95,0.65,0.7,0.95,0.4,0.45,0.4,0.4,0.35,0.3,0.3,0.3,0.1,0.15,0.15,0.15,0.2,0.3,0.1,0.1,0.04,0.05,0.25,0.65],
[0.9,1,1,1,1,0.72,0.72,0.95,0.4,1,1,0.95,0.92,1,1,0.6,0.55,0.5,0.45,0.9,0.6,0.6,0.9,0.8,0.4,0.35,0.1,0.1,0.06,0.85,0.95,1,0.85],
[0.8,1,1,1,1,1,1,0.95,0.95,0.7,0.9,0.9,0.6,0.65,0.5,0.2,0.5,0.7,0.8,0.6,0.6,0.4,0.45,0.4,0.3,0.3,0.65,0.3,0.3,0.5,0.85,0.9,0.65],
[1,1,1,1,0.85,1,1,1,1,1,1,1,1,1,0.7,0.65,0.4,0.4,0.55,0.55,0.3,0.5,0.75,0.75,0.65,0.15,0.15,0.15,0.06,0.04,0.04,0.75,0.95],
[1,1,1,1,1,1,1,1,1,1,1,1,1,0.85,0.45,0.35,0.45,0.4,0.25,0.25,0.25,0.2,0.2,0.3,0.1,0.12,0.2,0.25,0.1,0.05,0.04,0.4,0.7],
[1,0.5,1,1,1,1,1,0.6,1,1,0.95,1,1,0.95,0.45,0.45,0.85,0.4,0.3,0.35,0.35,0.6,0.45,0.7,0.5,0.3,0.25,0.15,0.1,0.05,0.04,0.2,0.5],
[1,0.72,0.85,0.85,0.68,0.95,1,0.9,1,1,1,0.45,0.35,0.95,0.35,0.4,0.3,0.5,0.55,0.72,0.75,0.95,0.95,0.85,0.5,0.5,0.3,0.1,0.05,0.05,0.04,0.2,1],
[1,1,1,1,0.9,0.75,0.45,0.82,0.7,0.7,0.8,0.45,0.5,0.35,0.55,0.8,0.7,0.55,0.72,0.85,0.3,0.4,0.5,0.5,0.5,0.65,0.3,0.3,0.2,0.12,0.04,0.04,0.5],
[1,1,1,1,1,1,1,1,1,1,1,1,0.7,0.7,0.3,0.65,0.5,0.2,0.6,0.75,0.3,0.3,0.45,0.45,0.4,0.08,0.15,0.08,0.06,0.04,0.04,0.04,0.7],
[1,1,1,1,1,1,1,1,1,1,1,0.85,0.65,0.65,0.6,0.5,0.5,0.45,0.65,0.72,0.4,0.5,0.5,0.3,0.3,0.05,0.4,0.4,0.3,0.05,0.25,0.95,0.7],
[1,1,0.6,1,1,1,1,1,0.72,0.45,0.45,0.35,0.12,0.95,0.95,0.65,0.45,0.5,0.55,0.55,0.55,0.55,0.6,0.45,0.3,0.3,0.35,0.2,0.06,0.05,0.04,0.2,1],
[1,0.75,1,0.4,0.95,1,1,1,0.6,1,1,1,1,1,1,1,1,0.9,0.7,0.5,0.3,0.3,0.3,0.4,0.4,0.3,0.3,0.2,0.1,0.05,0.04,0.06,0.85],
[0.6,1,1,0.65,1,1,1,1,1,1,1,1,1,0.65,0.72,0.55,0.8,0.3,0.2,0.2,0.2,0.3,0.25,0.35,0.35,0.15,0.1,0.1,0.06,0.04,0.04,0.04,0.6],
[1,1,1,1,1,1,1,1,1,1,1,0.9,0.95,0.95,0.95,0.9,0.9,0.9,0.8,0.35,0.3,0.3,0.3,0.35,0.4,0.85,0.9,0.9,0.3,0.1,0.06,0.05,1],
[0.75,0.95,1,1,0.9,1,0.95,1,1,1,0.75,1,0.6,0.4,0.4,0.4,0.45,0.35,0.15,0.2,0.3,0.3,0.3,0.35,0.3,0.2,0.12,0.06,0.06,0.05,0.04,0.4,0.6],
[1,1,1,1,0.9,1,0.85,0.9,0.85,0.45,0.5,1,1,0.65,0.9,0.9,0.85,0.9,0.75,0.72,0.22,0.1,0.25,0.35,0.3,0.35,0.25,0.12,0.05,0.05,0.04,0.4,0.6],
[1,0.55,1,1,1,1,1,1,1,1,0.9,0.9,0.85,0.8,0.8,0.8,0.85,0.75,0.35,0.4,0.45,0.4,0.35,0.65,0.6,0.4,0.65,0.5,0.5,0.06,0.1,0.85,0.55],
[1,1,0.8,0.7,1,1,0.95,0.5,0.95,1,0.95,0.85,0.85,0.85,0.55,0.55,0.55,0.55,0.2,0.25,0.5,0.55,0.8,0.9,0.9,0.8,0.25,0.25,0.2,0.05,0.05,0.04,0.65],
[1,1,1,0.9,0.72,1,1,0.6,0.55,1,1,1,1,0.9,0.9,0.9,0.45,0.4,0.1,0.25,0.25,0.8,0.75,0.8,0.2,0.2,0.15,0.2,0.2,0.15,0.06,0.05,0.65]
];
(function(){
const NS="http://www.w3.org/2000/svg";
const X0=101.3,X1=4888,Y0=138.5,Y1=1140;
const nC=xLabels.length,nR=layers.length;
const cw=(X1-X0)/nC,rh=(Y1-Y0)/nR;
const xPos=i=>X0+i*cw, yPos=r=>Y0+r*rh;
const stops=["#440154","#482475","#414487","#355f8d","#2a788e","#21918c","#22a884","#44bf70","#7ad151","#bddf26","#fde725"];
function hex(h){return [parseInt(h.substr(1,2),16),parseInt(h.substr(3,2),16),parseInt(h.substr(5,2),16)];}
function viridis(v){v=Math.max(0,Math.min(1,v));const p=v*10,i=Math.min(9,Math.floor(p)),f=p-i;const a=hex(stops[i]),b=hex(stops[i+1]);return "rgb("+a.map((c,k)=>Math.round(c+(b[k]-c)*f)).join(",")+")";}
function el(tag,attrs,parent){const e=document.createElementNS(NS,tag);for(const k in attrs)e.setAttribute(k,attrs[k]);parent.appendChild(e);return e;}
const cells=document.getElementById("cells");
for(let c=0;c<nC;c++){
  const vals=scoreCols[c]||[];
  for(let r=0;r<nR;r++){
    const v=vals[r]!==undefined?vals[r]:0;
    const rect=el("rect",{x:xPos(c),y:yPos(r),width:cw+0.6,height:rh+0.6,fill:viridis(v)},cells);
    
    
  }
}
for(let c=0;c<nC;c++){
  const toks=tokenCols[c]||[];
  for(let r=0;r<nR;r++){
    const t=el("text",{x:xPos(c)+cw/2,y:yPos(r)+rh/2+3.5,"font-size":"10","text-anchor":"middle",fill:"#000"},cells);
    t.textContent=toks[r]||"";
    
    
  }
}
for(let r=0;r<2;r++){
  const b=el("rect",{x:xPos(0)+1,y:yPos(r)+1,width:cw-2,height:rh-2,fill:"none",stroke:"#000","stroke-width":"2"},cells);
  
  
}
const xt=document.getElementById("xt");
for(let c=0;c<nC;c++){
  const tx=xPos(c)+cw/2;
  const tk=el("line",{x1:tx,y1:Y0,x2:tx,y2:Y0-4,stroke:"#000","stroke-width":"1"},xt);
  
  
  const L=xLabels[c].length*7.8;
  const px=tx-3,py=124-0.707*L;
  const t=el("text",{"font-size":"13","text-anchor":"end",transform:"translate("+px+","+py+") rotate(-45)"},xt);
  t.textContent=xLabels[c];
  
  
}
const yt=document.getElementById("yt");
for(let r=0;r<nR;r++){
  const cy=yPos(r)+rh/2;
  const tk=el("line",{x1:X0,y1:cy,x2:X0-4,y2:cy,stroke:"#000","stroke-width":"1"},yt);
  
  
  const t=el("text",{x:X0-7,y:cy+4.5,"font-size":"13","text-anchor":"end"},yt);
  t.textContent="layer "+layers[r];
  
  
}
const cb=document.getElementById("cb");
const cbY=v=>Y1-(Y1-Y0)*v;
cbTicks.forEach(v=>{
  const y=cbY(v);
  const tk=el("line",{x1:5238,y1:y,x2:5242,y2:y,stroke:"#000","stroke-width":"1"},cb);
  
  
  const t=el("text",{x:5247,y:y+4.5,"font-size":"13"},cb);
  t.textContent=v.toFixed(1);
  
  
});
})();
</script>
</body></html>
